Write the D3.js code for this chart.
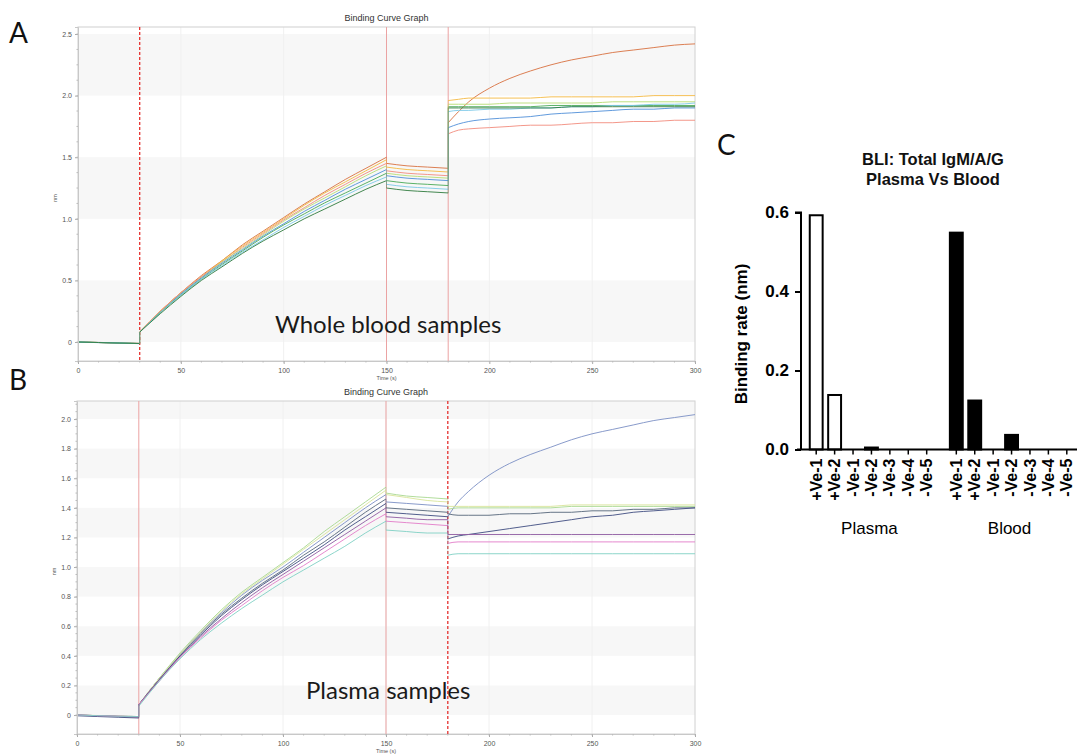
<!DOCTYPE html>
<html><head><meta charset="utf-8">
<script src="https://cdn.jsdelivr.net/npm/d3@7"></script>
<style>body{margin:0;background:#fff}svg{display:block}</style>
</head><body>
<svg id="fig" width="1077" height="755"></svg>
<script>
// ---------------- DATA ----------------
const timesBase   = [0, 10, 20, 30];
const timesAssoc  = [30, 40, 50, 60, 70, 80, 90, 100, 110, 120, 130, 140, 150];
const timesDissoc = [150, 160, 170, 180];
const timesFinal  = [180, 185, 190, 200, 210, 220, 230, 240, 250, 260, 270, 280, 290, 300];

// Panel A: whole blood samples (nm)
const bloodBase = [
  [0.00, -0.004, -0.008, -0.012],
  [0.00, -0.004, -0.008, -0.012],
  [0.00, -0.003, -0.007, -0.010],
  [0.00, -0.004, -0.008, -0.012],
  [0.00, -0.005, -0.009, -0.013],
  [0.00, -0.004, -0.008, -0.012],
  [0.00, -0.003, -0.007, -0.011],
  [0.00, -0.004, -0.008, -0.012]
];
const bloodAssoc = [
  [0.08,0.25,0.40,0.54,0.66,0.79,0.90,1.01,1.12,1.22,1.32,1.41,1.50],
  [0.08,0.25,0.40,0.53,0.66,0.78,0.89,1.00,1.11,1.21,1.30,1.39,1.48],
  [0.08,0.25,0.40,0.53,0.65,0.77,0.88,0.99,1.09,1.19,1.28,1.37,1.45],
  [0.08,0.24,0.39,0.52,0.65,0.76,0.87,0.98,1.08,1.17,1.26,1.35,1.43],
  [0.08,0.24,0.39,0.52,0.64,0.75,0.86,0.96,1.06,1.15,1.24,1.32,1.40],
  [0.08,0.24,0.38,0.51,0.63,0.74,0.85,0.95,1.04,1.13,1.21,1.29,1.37],
  [0.08,0.24,0.38,0.51,0.62,0.73,0.83,0.93,1.02,1.11,1.19,1.27,1.34],
  [0.08,0.23,0.37,0.50,0.61,0.72,0.82,0.91,1.00,1.08,1.16,1.24,1.31]
];
const bloodDissoc = [
  [1.45,1.43,1.42,1.41],
  [1.42,1.40,1.39,1.38],
  [1.39,1.37,1.36,1.35],
  [1.37,1.35,1.34,1.33],
  [1.35,1.33,1.32,1.31],
  [1.31,1.29,1.28,1.27],
  [1.28,1.26,1.25,1.24],
  [1.25,1.23,1.22,1.21]
];
const bloodFinal = [
  [1.78,1.87,1.95,2.06,2.14,2.20,2.25,2.29,2.32,2.35,2.37,2.39,2.41,2.42],
  [1.96,1.97,1.98,1.98,1.98,1.98,1.99,1.99,1.99,1.99,1.99,2.00,2.00,2.00],
  [1.69,1.72,1.73,1.74,1.75,1.76,1.76,1.77,1.78,1.78,1.79,1.79,1.80,1.80],
  [1.93,1.93,1.93,1.93,1.94,1.94,1.94,1.94,1.94,1.95,1.95,1.95,1.95,1.95],
  [1.74,1.77,1.79,1.81,1.82,1.83,1.85,1.86,1.87,1.88,1.89,1.89,1.90,1.90],
  [1.91,1.91,1.91,1.91,1.91,1.91,1.92,1.92,1.92,1.92,1.92,1.92,1.92,1.92],
  [1.87,1.88,1.88,1.89,1.89,1.90,1.90,1.91,1.91,1.92,1.92,1.93,1.93,1.94],
  [1.90,1.90,1.90,1.90,1.90,1.90,1.90,1.91,1.91,1.91,1.91,1.91,1.91,1.91]
];

// Panel B: plasma samples (nm)
const plasmaBase = [
  [0.00, -0.004, -0.008, -0.010],
  [0.00, -0.004, -0.008, -0.010],
  [0.00, -0.003, -0.007, -0.010],
  [0.00, -0.005, -0.010, -0.015],
  [-0.005, -0.010, -0.015, -0.020],
  [0.00, -0.004, -0.008, -0.010],
  [0.00, -0.004, -0.008, -0.012],
  [0.00, -0.004, -0.008, -0.010]
];
const plasmaAssoc = [
  [0.07,0.25,0.41,0.56,0.69,0.81,0.91,1.00,1.10,1.20,1.30,1.40,1.49],
  [0.07,0.25,0.42,0.57,0.71,0.83,0.93,1.03,1.13,1.24,1.34,1.44,1.54],
  [0.07,0.25,0.41,0.56,0.70,0.82,0.92,1.02,1.12,1.22,1.32,1.42,1.52],
  [0.07,0.24,0.40,0.55,0.68,0.79,0.89,0.98,1.08,1.17,1.27,1.37,1.46],
  [0.07,0.24,0.40,0.54,0.67,0.78,0.88,0.97,1.06,1.15,1.25,1.34,1.43],
  [0.07,0.24,0.39,0.53,0.65,0.76,0.86,0.95,1.04,1.13,1.22,1.31,1.40],
  [0.07,0.23,0.39,0.52,0.64,0.74,0.84,0.93,1.01,1.10,1.19,1.28,1.36],
  [0.06,0.23,0.38,0.51,0.62,0.72,0.81,0.90,0.98,1.06,1.14,1.23,1.31]
];
const plasmaDissoc = [
  [1.44,1.43,1.42,1.41],
  [1.50,1.48,1.47,1.46],
  [1.49,1.47,1.45,1.44],
  [1.40,1.39,1.38,1.37],
  [1.37,1.36,1.35,1.34],
  [1.34,1.33,1.32,1.32],
  [1.31,1.30,1.29,1.28],
  [1.25,1.24,1.23,1.23]
];
const plasmaFinal = [
  [1.34,1.44,1.51,1.62,1.70,1.76,1.81,1.86,1.90,1.93,1.96,1.99,2.01,2.03],
  [1.39,1.40,1.40,1.40,1.40,1.40,1.40,1.41,1.41,1.41,1.41,1.41,1.41,1.41],
  [1.41,1.41,1.41,1.41,1.41,1.41,1.41,1.42,1.42,1.42,1.42,1.42,1.42,1.42],
  [1.36,1.35,1.35,1.35,1.36,1.36,1.37,1.37,1.38,1.38,1.39,1.39,1.40,1.40],
  [1.19,1.21,1.22,1.24,1.26,1.28,1.30,1.32,1.34,1.35,1.37,1.38,1.39,1.40],
  [1.22,1.22,1.22,1.22,1.22,1.22,1.22,1.22,1.22,1.22,1.22,1.22,1.22,1.22],
  [1.16,1.17,1.17,1.17,1.17,1.17,1.17,1.17,1.17,1.17,1.17,1.17,1.17,1.17],
  [1.08,1.09,1.09,1.09,1.09,1.09,1.09,1.09,1.09,1.09,1.09,1.09,1.09,1.09]
];

const stepTimes = [30, 150, 180];
const timeTicks = [0, 50, 100, 150, 200, 250, 300];
const bloodYTicks = [0, 0.5, 1.0, 1.5, 2.0, 2.5];
const plasmaYTicks = [0, 0.2, 0.4, 0.6, 0.8, 1.0, 1.2, 1.4, 1.6, 1.8, 2.0];

// Panel C
const barCategories = ["+Ve-1", "+Ve-2", "-Ve-1", "-Ve-2", "-Ve-3", "-Ve-4", "-Ve-5"];
const barGroups = ["Plasma", "Blood"];
const plasmaRates = [0.593, 0.138, 0, 0.005, 0, 0, 0];
const bloodRates  = [0.549, 0.124, 0, 0.037, 0, 0, 0];
const rateTicks = [0, 0.2, 0.4, 0.6];

// ---------------- STYLES ----------------
const colorsBlood  = ["#d8703f","#f4b942","#f28b7d","#b8dc74","#4f8fd8","#48a957","#7cc8e8","#2f7a3d"];
const colorsPlasma = ["#7b8fc4","#a8d890","#d8e49a","#56677a","#3e4c80","#8e5aa2","#e27cc8","#7fd0c4"];

const svg = d3.select("#fig");
const smallFont = "'Liberation Sans', Arial, sans-serif";

function drawSensorgram(cfg) {
  const g = svg.append("g");
  const x = d3.scaleLinear().domain([0, 300]).range([cfg.left, cfg.right]);
  const y = d3.scaleLinear().domain(cfg.yDomain).range([cfg.bottom, cfg.top]);
  const clipId = "clip" + cfg.id;
  svg.append("clipPath").attr("id", clipId).append("rect")
    .attr("x", cfg.left).attr("y", cfg.top)
    .attr("width", cfg.right - cfg.left).attr("height", cfg.bottom - cfg.top);

  // alternating bands
  const step = cfg.yTicks[1] - cfg.yTicks[0];
  const bands = g.append("g").attr("clip-path", `url(#${clipId})`);
  cfg.yTicks.forEach((t, i) => {
    if (i % 2 === 0) {
      bands.append("rect")
        .attr("x", cfg.left).attr("width", cfg.right - cfg.left)
        .attr("y", y(t + step)).attr("height", y(t) - y(t + step))
        .attr("fill", "#f7f7f7");
    }
  });
  // faint vertical grid
  timeTicks.slice(1, -1).forEach(t => {
    bands.append("line").attr("x1", x(t)).attr("x2", x(t))
      .attr("y1", cfg.top).attr("y2", cfg.bottom)
      .attr("stroke", "#f0f0f0").attr("stroke-width", 1);
  });

  // frame
  g.append("rect").attr("x", cfg.left).attr("y", cfg.top)
    .attr("width", cfg.right - cfg.left).attr("height", cfg.bottom - cfg.top)
    .attr("fill", "none").attr("stroke", "#d0d0d0").attr("stroke-width", 1);

  // step markers
  stepTimes.forEach(t => {
    const dashed = t === cfg.dashedAt;
    g.append("line").attr("x1", x(t)).attr("x2", x(t))
      .attr("y1", cfg.top).attr("y2", cfg.bottom)
      .attr("stroke", dashed ? "#e5322f" : "#eba3a3")
      .attr("stroke-width", dashed ? 1.3 : 1)
      .attr("stroke-dasharray", dashed ? "3,2" : null);
  });

  // curves
  const line = d3.line().x(d => x(d[0])).y(d => y(d[1])).curve(d3.curveMonotoneX);
  const curves = g.append("g").attr("clip-path", `url(#${clipId})`);
  const phases = [[timesBase, cfg.base], [timesAssoc, cfg.assoc], [timesDissoc, cfg.dissoc], [timesFinal, cfg.final]];
  cfg.colors.forEach((c, k) => {
    phases.forEach(([ts, arr]) => {
      const pts = ts.map((t, i) => [t, arr[k][i]]);
      curves.append("path").attr("d", line(pts))
        .attr("fill", "none").attr("stroke", c).attr("stroke-width", 0.9);
    });
  });
  // vertical jumps at the step times
  cfg.colors.forEach((c, k) => {
    const jumps = [
      [30, cfg.base[k][3], cfg.assoc[k][0]],
      [150, cfg.assoc[k][12], cfg.dissoc[k][0]],
      [180, cfg.dissoc[k][3], cfg.final[k][0]]
    ];
    jumps.forEach(([t, a, b]) => {
      curves.append("line").attr("x1", x(t)).attr("x2", x(t))
        .attr("y1", y(a)).attr("y2", y(b))
        .attr("stroke", c).attr("stroke-width", 0.7).attr("opacity", 0.5);
    });
  });

  // axes
  const yAxis = d3.axisLeft(y).tickValues(cfg.yTicks).tickSize(3).tickPadding(3)
    .tickFormat(d => d === 0 ? "0" : d3.format(".1f")(d));
  const ya = g.append("g").attr("transform", `translate(${cfg.left},0)`).call(yAxis);
  const xAxis = d3.axisBottom(x).tickValues(timeTicks).tickSize(3).tickPadding(4).tickFormat(d3.format("d"));
  const xa = g.append("g").attr("transform", `translate(0,${cfg.bottom})`).call(xAxis);
  [ya, xa].forEach(a => {
    a.select(".domain").attr("stroke", "#c8c8c8");
    a.selectAll(".tick line").attr("stroke", "#aaa");
    a.selectAll("text").attr("font-family", smallFont).attr("font-size", 7).attr("fill", "#555");
  });
  // minor ticks
  d3.range(0, 301, 10).forEach(t => {
    g.append("line").attr("x1", x(t)).attr("x2", x(t))
      .attr("y1", cfg.bottom).attr("y2", cfg.bottom + 1.5).attr("stroke", "#bbb");
  });
  d3.range(cfg.yTicks[0], cfg.yDomain[1], step / 4).forEach(v => {
    g.append("line").attr("x1", cfg.left - 1.5).attr("x2", cfg.left)
      .attr("y1", y(v)).attr("y2", y(v)).attr("stroke", "#bbb");
  });

  // titles
  g.append("text").attr("x", (cfg.left + cfg.right) / 2).attr("y", cfg.top - 6)
    .attr("text-anchor", "middle").attr("font-family", smallFont)
    .attr("font-size", 9).attr("fill", "#333").text("Binding Curve Graph");
  g.append("text").attr("x", x(150)).attr("y", cfg.bottom + 19)
    .attr("text-anchor", "middle").attr("font-family", smallFont)
    .attr("font-size", 5.5).attr("fill", "#555").text("Time (s)");
  g.append("text").attr("transform", `translate(${cfg.left - 21},${(cfg.top + cfg.bottom) / 2 + 4}) rotate(-90)`)
    .attr("text-anchor", "middle").attr("font-family", smallFont)
    .attr("font-size", 5.5).attr("fill", "#555").text("nm");

  // overlay label
  g.append("text").attr("x", cfg.labelX).attr("y", cfg.labelY)
    .attr("font-family", "Lato, 'Open Sans', sans-serif").attr("font-size", 24)
    .attr("fill", "#1a1a1a").text(cfg.label);
}

drawSensorgram({
  id: "A", left: 78, right: 695, top: 27, bottom: 361,
  yDomain: [-0.154, 2.557], yTicks: bloodYTicks, dashedAt: 30,
  base: bloodBase, assoc: bloodAssoc, dissoc: bloodDissoc, final: bloodFinal,
  colors: colorsBlood, label: "Whole blood samples", labelX: 275, labelY: 333
});
drawSensorgram({
  id: "B", left: 77, right: 695, top: 401, bottom: 734,
  yDomain: [-0.128, 2.122], yTicks: plasmaYTicks, dashedAt: 180,
  base: plasmaBase, assoc: plasmaAssoc, dissoc: plasmaDissoc, final: plasmaFinal,
  colors: colorsPlasma, label: "Plasma samples", labelX: 306, labelY: 699
});

// panel letters
const letterFont = "Lato, 'Open Sans', sans-serif";
[["A", 9, 43], ["B", 9, 390], ["C", 717, 155]].forEach(([t, lx, ly]) => {
  svg.append("text").attr("x", lx).attr("y", ly).attr("font-family", letterFont)
    .attr("font-size", 28).attr("fill", "#111").text(t);
});

// ---------------- PANEL C ----------------
(function () {
  const g = svg.append("g");
  const boldFont = "'Liberation Sans', Arial, sans-serif";
  const xGroup = d3.scaleBand().domain(barGroups).range([807, 1076]).paddingInner(0.08);
  const xCat = d3.scalePoint().domain(barCategories).range([0, xGroup.bandwidth()]).padding(0.5);
  const yRate = d3.scaleLinear().domain([0, 0.6]).range([449.5, 212.5]);
  const barW = xCat.step() * 0.7;
  const axisX = 801;

  const series = [["Plasma", plasmaRates, "#fff"], ["Blood", bloodRates, "#000"]];
  series.forEach(([grp, vals, fill]) => {
    barCategories.forEach((c, i) => {
      const v = vals[i];
      if (v <= 0) return;
      const cx = xGroup(grp) + xCat(c);
      g.append("rect").attr("x", cx - barW / 2).attr("y", yRate(v))
        .attr("width", barW).attr("height", yRate(0) - yRate(v))
        .attr("fill", fill).attr("stroke", "#000").attr("stroke-width", 2);
    });
  });

  // y axis
  const ya = g.append("g").attr("transform", `translate(${axisX},0)`)
    .call(d3.axisLeft(yRate).tickValues(rateTicks).tickSize(6).tickPadding(6).tickFormat(d3.format(".1f")));
  ya.select(".domain").attr("stroke", "#000").attr("stroke-width", 2).attr("d", `M-6,${yRate(0.6)}H0V${yRate(0)}`);
  ya.selectAll(".tick line").attr("stroke", "#000").attr("stroke-width", 2);
  ya.selectAll("text").attr("font-family", boldFont).attr("font-weight", "bold")
    .attr("font-size", 17).attr("fill", "#000");

  // x axis
  g.append("line").attr("x1", axisX - 4).attr("x2", 1077).attr("y1", yRate(0)).attr("y2", yRate(0))
    .attr("stroke", "#000").attr("stroke-width", 2);
  barGroups.forEach(grp => {
    barCategories.forEach(c => {
      const cx = xGroup(grp) + xCat(c);
      g.append("line").attr("x1", cx).attr("x2", cx).attr("y1", yRate(0)).attr("y2", yRate(0) + 5)
        .attr("stroke", "#000").attr("stroke-width", 1.5);
      g.append("text").attr("transform", `translate(${cx},${yRate(0) + 9}) rotate(-90)`)
        .attr("text-anchor", "end").attr("dy", "0.35em")
        .attr("font-family", boldFont).attr("font-weight", "bold").attr("font-size", 16)
        .attr("fill", "#000").text(c);
    });
    g.append("text").attr("x", xGroup(grp) + xGroup.bandwidth() / 2 - 2).attr("y", 534)
      .attr("text-anchor", "middle").attr("font-family", boldFont).attr("font-size", 17)
      .attr("fill", "#000").text(grp);
  });

  // y label
  g.append("text").attr("transform", `translate(741,${(yRate(0) + yRate(0.6)) / 2 + 3}) rotate(-90)`)
    .attr("text-anchor", "middle").attr("dy", "0.35em")
    .attr("font-family", boldFont).attr("font-weight", "bold").attr("font-size", 17)
    .attr("fill", "#000").text("Binding rate (nm)");

  // title
  const tx = 933;
  g.append("text").attr("x", tx).attr("y", 165).attr("text-anchor", "middle")
    .attr("font-family", boldFont).attr("font-weight", "bold").attr("font-size", 16.5)
    .attr("fill", "#111").text("BLI: Total IgM/A/G");
  g.append("text").attr("x", tx).attr("y", 185).attr("text-anchor", "middle")
    .attr("font-family", boldFont).attr("font-weight", "bold").attr("font-size", 16.5)
    .attr("fill", "#111").text("Plasma Vs Blood");
})();
</script>
</body></html>
